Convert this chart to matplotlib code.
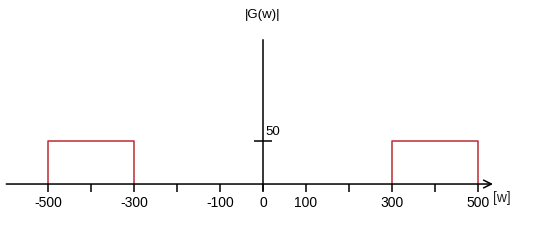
import matplotlib
matplotlib.use("Agg")
import matplotlib.pyplot as plt

plt.rcParams["font.family"] = ["Liberation Sans", "DejaVu Sans"]

# pass bands of |G(w)| (start, end) and their height
bands = [(-500, -300), (300, 500)]
level = 50

tick_pos = [-500, -400, -300, -200, -100, 0, 100, 200, 300, 400, 500]
tick_txt = ["-500", "", "-300", "", "-100", "0", "100", "", "300", "", "500"]

red = "#bf2a32"

fig = plt.figure(figsize=(5.44, 2.40), dpi=100)
ax = fig.add_axes([0, 0, 1, 1])
ax.set_xlim(-611.6, 653.5)
ax.set_ylim(-65.1, 214)

# horizontal axis with open arrow head
ax.annotate("", xy=(535, 0), xytext=(-597, 0),
            arrowprops=dict(arrowstyle="->", color="black", lw=1.1,
                            shrinkA=0, shrinkB=0, mutation_scale=14))

# vertical axis
for s in ["top", "right", "bottom"]:
    ax.spines[s].set_visible(False)
ax.spines["left"].set_position(("data", 0))
ax.spines["left"].set_bounds(-7, 167)
ax.spines["left"].set_linewidth(1.1)

ax.set_yticks([level])
ax.set_yticklabels([""])
ax.tick_params(axis="y", direction="inout", length=13, width=1.1)

ax.set_xticks(tick_pos)
ax.set_xticklabels(tick_txt, fontsize=9.5)
ax.xaxis.set_ticks_position("bottom")
ax.spines["bottom"].set_position(("data", 0))
ax.tick_params(axis="x", direction="out", length=6, width=1.1, pad=2.5)

# the two rectangles
for a, b in bands:
    ax.plot([a, a, b, b], [0, level, level, 0], color=red, lw=1.1)

ax.text(5, level + 3, "50", fontsize=9.5, ha="left", va="bottom")
ax.text(0, 196, "|G(w)|", fontsize=9.5, ha="center", va="center")
ax.text(535, -16, "[w]", fontsize=10, ha="left", va="center", color="#222222")

fig.savefig("out.png", dpi=100)
